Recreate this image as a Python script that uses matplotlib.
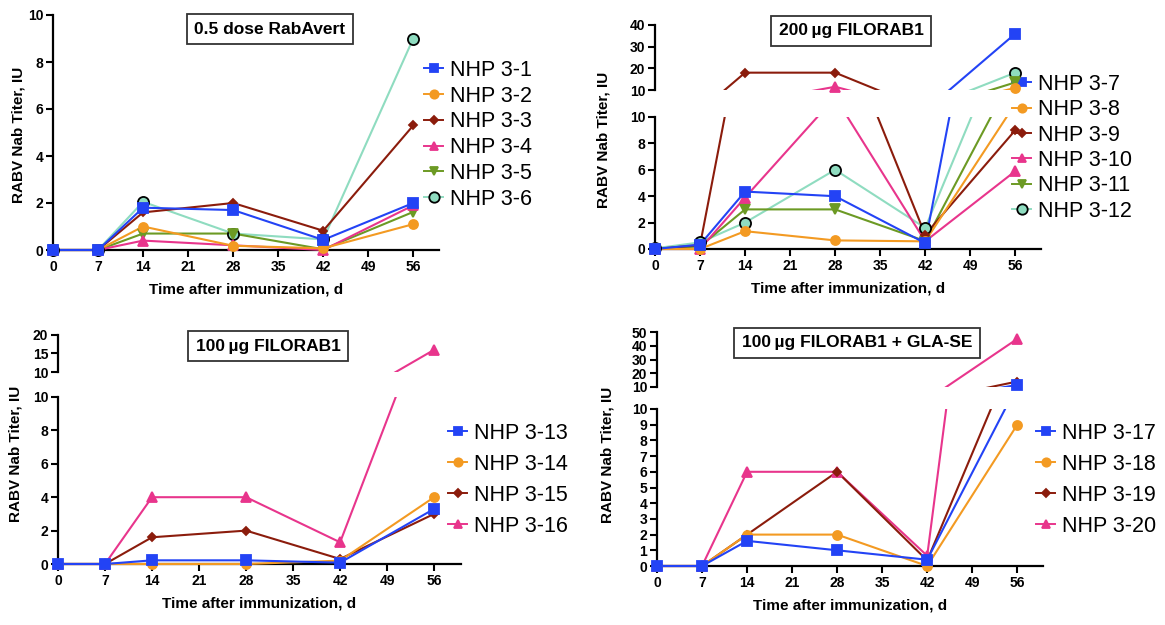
import numpy as np
import matplotlib
matplotlib.use("Agg")
import matplotlib.pyplot as plt
from matplotlib.lines import Line2D
from matplotlib.patches import Rectangle

plt.rcParams['font.family'] = ['Liberation Sans', 'DejaVu Sans']

# days after immunization
days = [0, 7, 14, 28, 42, 56]
x_ticks = [0, 7, 14, 21, 28, 35, 42, 49, 56]

# 0.5 dose RabAvert
p1_labels = ['NHP 3-1', 'NHP 3-2', 'NHP 3-3', 'NHP 3-4', 'NHP 3-5', 'NHP 3-6']
p1_values = [
    [0, 0, 1.8, 1.7, 0.43, 2.0],
    [0, 0, 1.0, 0.18, 0.07, 1.1],
    [0, 0, 1.6, 2.0, 0.82, 5.3],
    [0, 0, 0.4, 0.2, 0.0, 1.9],
    [0, 0, 0.7, 0.7, 0.03, 1.62],
    [0, 0, 2.05, 0.7, 0.45, 9.0],
]

# 200 ug FILORAB1
p2_labels = ['NHP 3-7', 'NHP 3-8', 'NHP 3-9', 'NHP 3-10', 'NHP 3-11', 'NHP 3-12']
p2_values = [
    [0, 0.33, 4.35, 4.0, 0.45, 36],
    [0, 0, 1.35, 0.65, 0.58, 11],
    [0, 0.3, 18, 18, 1.08, 9.0],
    [0, 0, 3.9, 11.5, 0.58, 5.9],
    [0, 0.2, 3.0, 3.0, 0.6, 13.5],
    [0.05, 0.5, 2.0, 6.0, 1.6, 18],
]

# 100 ug FILORAB1
p3_labels = ['NHP 3-13', 'NHP 3-14', 'NHP 3-15', 'NHP 3-16']
p3_values = [
    [0, 0, 0.22, 0.22, 0.08, 3.3],
    [0, 0, 0.0, 0.0, 0.2, 4.0],
    [0, 0, 1.6, 2.0, 0.3, 3.0],
    [0, 0, 4.0, 4.0, 1.3, 16],
]

# 100 ug FILORAB1 + GLA-SE
p4_labels = ['NHP 3-17', 'NHP 3-18', 'NHP 3-19', 'NHP 3-20']
p4_values = [
    [0, 0, 1.6, 1.0, 0.4, 11.5],
    [0, 0, 2.0, 2.0, 0.0, 9.0],
    [0, 0, 2.0, 6.0, 0.35, 14],
    [0, 0, 6.0, 6.0, 0.65, 45],
]

styles = [
    dict(color='#2343f5', marker='s', ms=6.5, mec='#2343f5'),
    dict(color='#f39a22', marker='o', ms=6.5, mec='#f39a22'),
    dict(color='#8b1c0c', marker='D', ms=4.5, mec='#8b1c0c'),
    dict(color='#e8358c', marker='^', ms=6.5, mec='#e8358c'),
    dict(color='#6c9a24', marker='v', ms=6.5, mec='#6c9a24'),
    dict(color='#8fdcc0', marker='o', ms=8, mec='black'),
]

W, H = 1165, 625
fig = plt.figure(figsize=(W / 100, H / 100), dpi=100)


def px_axes(x0, x1, ytop, ybot):
    return fig.add_axes([x0 / W, 1 - ybot / H, (x1 - x0) / W, (ybot - ytop) / H])


def style_axis(ax, yticks, bottom=True):
    for s in ['top', 'right']:
        ax.spines[s].set_visible(False)
    ax.spines['left'].set_linewidth(1.6)
    ax.spines['bottom'].set_linewidth(1.6)
    ax.set_yticks(yticks)
    ax.tick_params(axis='both', width=1.5, length=5, labelsize=10, pad=2)
    for t in ax.get_yticklabels() + ax.get_xticklabels():
        t.set_fontweight('bold')
    ax.set_xlim(0, 60)
    ax.patch.set_alpha(0)
    if bottom:
        ax.set_xticks(x_ticks)
        for t in ax.get_xticklabels():
            t.set_fontweight('bold')
    else:
        ax.spines['bottom'].set_visible(False)
        ax.set_xticks([])


def draw_series(ax, values, lo, hi, clip):
    # draw in reverse so the first animal sits on top
    for i in reversed(range(len(values))):
        st = styles[i]
        y = np.array(values[i], dtype=float)
        ln, = ax.plot(days, y, color=st['color'], lw=1.5, zorder=3)
        ln.set_clip_path(Rectangle(clip[:2], clip[2], clip[3], transform=ax.transAxes))
        inside = (y >= lo) & (y <= hi) if lo == 0 else (y > lo) & (y <= hi)
        ym = np.where(inside, y, np.nan)
        ax.plot(days, ym, ls='none', marker=st['marker'], ms=st['ms'],
                mfc=st['color'], mec=st['mec'], mew=1.3, zorder=4, clip_on=False)


def panel(values, labels, title, x0, x1, low, up, title_xy, leg_xy, ylab_xy,
          lowticks, upticks, leg_space):
    ax = px_axes(x0, x1, low[1], low[2])
    ax.set_ylim(0, low[0])
    style_axis(ax, lowticks)
    draw_series(ax, values, 0, low[0], (-0.05, -0.05, 1.05, 1.05))
    ax.set_xlabel('Time after immunization, d', fontsize=11, fontweight='bold', labelpad=6)
    if up is not None:
        axu = px_axes(x0, x1, up[2], up[3])
        axu.set_ylim(up[0], up[1])
        style_axis(axu, upticks, bottom=False)
        draw_series(axu, values, up[0], up[1], (-0.05, 0, 1.05, 1.2))
    fig.text(title_xy[0] / W, 1 - title_xy[1] / H, title, ha='center', va='center',
             fontsize=12.5, fontweight='bold',
             bbox=dict(boxstyle='square,pad=0.45', fc='white', ec='#333333', lw=1.3))
    fig.text(ylab_xy[0] / W, 1 - ylab_xy[1] / H, 'RABV Nab Titer, IU', rotation=90,
             ha='center', va='center', fontsize=11, fontweight='bold')
    handles = []
    for i in range(len(labels)):
        st = styles[i]
        handles.append(Line2D([], [], color=st['color'], lw=1.4, marker=st['marker'],
                              ms=st['ms'] - 0.5, mfc=st['color'], mec=st['mec'], mew=1.3))
    ax.legend(handles, labels, loc='upper left', bbox_to_anchor=(leg_xy[0] / W, 1 - leg_xy[1] / H),
              bbox_transform=fig.transFigure, frameon=False, fontsize=15.5,
              handlelength=0.9, handletextpad=0.3, labelspacing=leg_space,
              borderpad=0, borderaxespad=0)


panel(p1_values, p1_labels, '0.5 dose RabAvert', 53, 439, (10, 15, 250), None,
      (270, 29), (424, 60), (19, 135), [0, 2, 4, 6, 8, 10], None, 0.22)
panel(p2_values, p2_labels, '200\u2009\u00b5g FILORAB1', 655, 1041, (10, 117, 249),
      (10, 40, 25, 90), (851, 31), (1012, 74), (604, 140), [0, 2, 4, 6, 8, 10],
      [10, 20, 30, 40], 0.2)
panel(p3_values, p3_labels, '100\u2009\u00b5g FILORAB1', 58, 461, (10, 397, 564),
      (10, 20, 335, 372), (268, 346), (448, 423), (16, 454), [0, 2, 4, 6, 8, 10],
      [10, 15, 20], 0.46)
panel(p4_values, p4_labels, '100\u2009\u00b5g FILORAB1 + GLA-SE', 657, 1043, (10, 409, 566),
      (10, 50, 332, 387), (857, 343), (1036, 423), (608, 455), list(range(11)),
      [10, 20, 30, 40, 50], 0.46)

fig.savefig('out.png', dpi=100)
